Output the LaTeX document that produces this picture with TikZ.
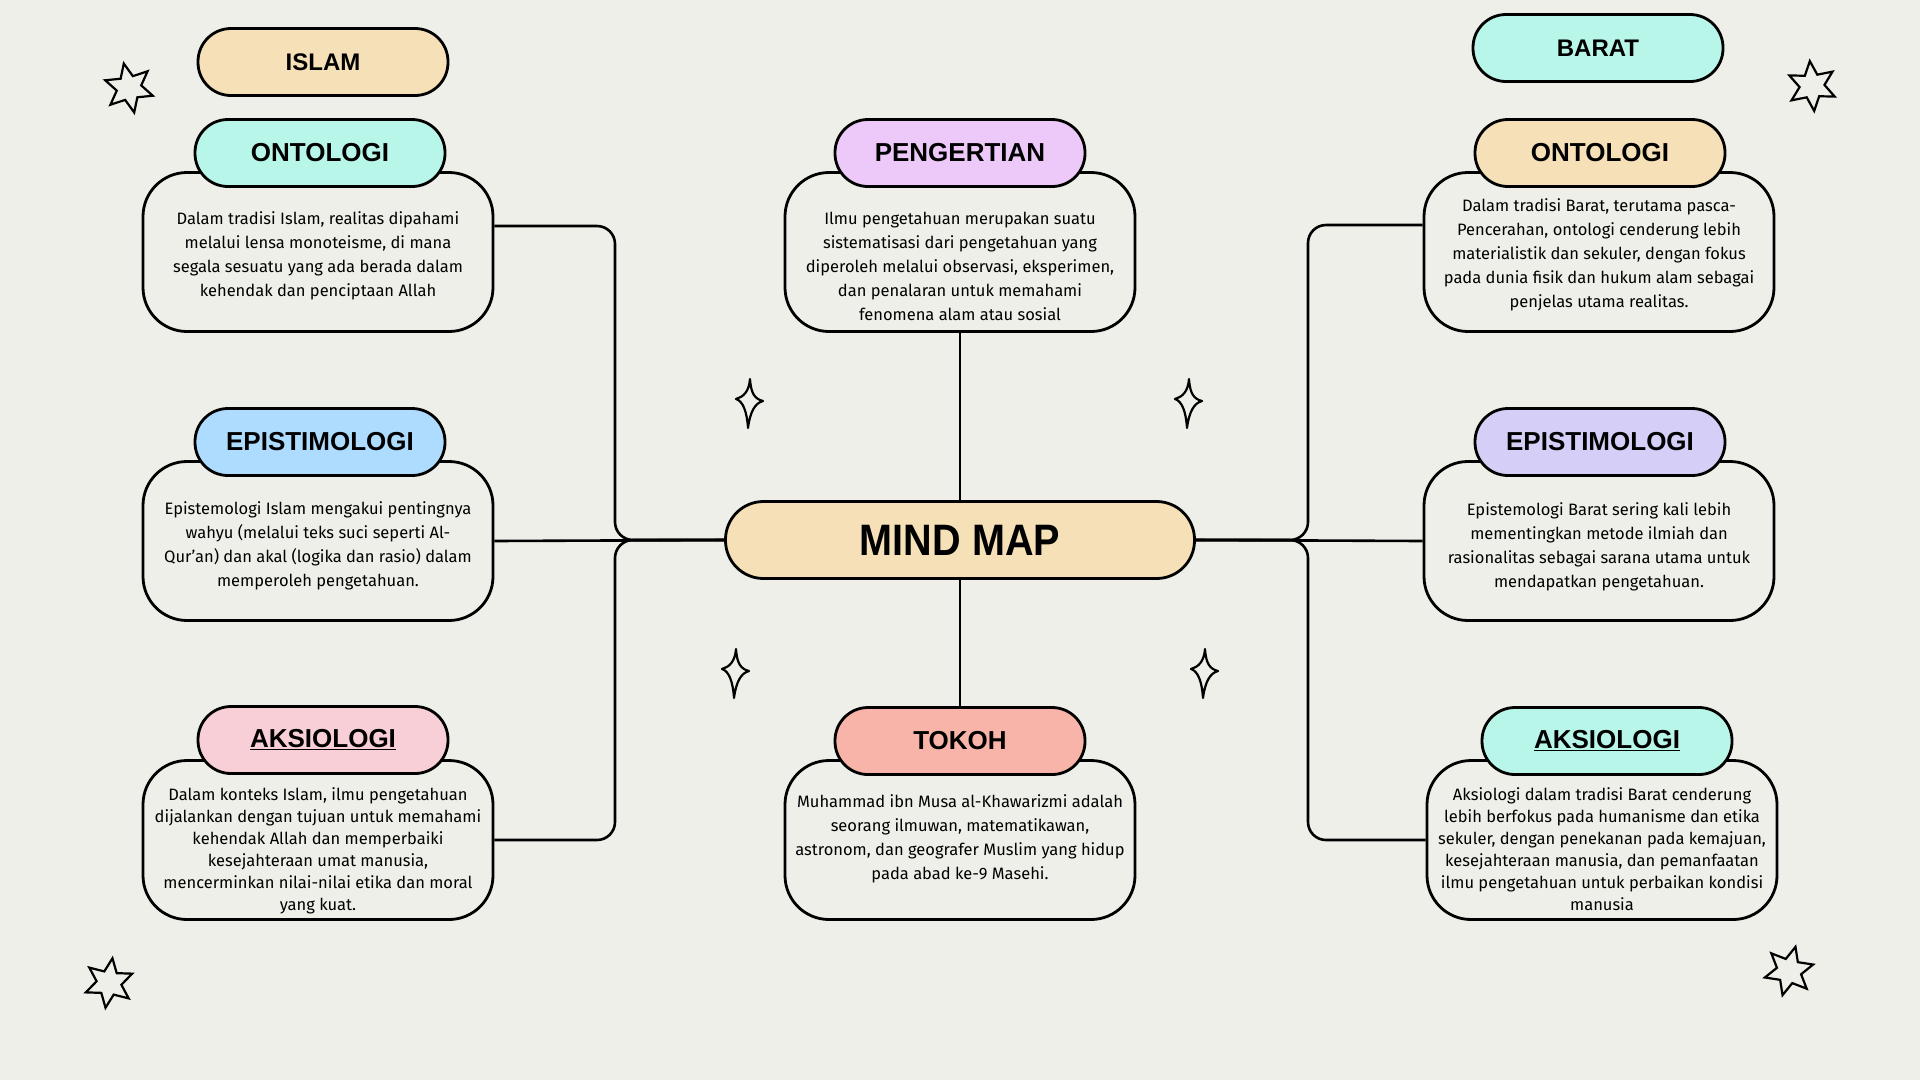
\documentclass[tikz,border=0pt]{standalone}
\usepackage{fontspec}
\setmainfont{Fira Sans}
\newfontfamily\headfont{Liberation Sans}
\newfontfamily\titlefont[FakeStretch=0.9]{Liberation Sans}
\usepackage{tikz}
\usetikzlibrary{shapes.geometric,positioning,calc}
\definecolor{paper}{RGB}{239,239,233}
\definecolor{sand}{RGB}{245,224,183}
\definecolor{mint}{RGB}{184,246,234}
\definecolor{sky}{RGB}{173,220,255}
\definecolor{blush}{RGB}{248,207,214}
\definecolor{lilac}{RGB}{237,201,250}
\definecolor{salmon}{RGB}{248,180,168}
\definecolor{lavender}{RGB}{213,206,246}

\tikzset{
    bodybox/.style={draw, line width=2.8pt, fill=paper, rounded corners=44pt,
        minimum width=350pt, minimum height=159pt},
    bodytext/.style={align=center, inner sep=0pt, font=\fontsize{16.5}{24}\selectfont},
    tighttext/.style={bodytext, font=\fontsize{16.5}{22}\selectfont},
    headbox/.style={draw, line width=2.8pt, rounded corners=33pt,
        minimum width=250pt, minimum height=67pt,
        font=\headfont\bfseries\fontsize{26}{30}\selectfont},
    mainbox/.style={draw, line width=2.8pt, fill=sand, rounded corners=38pt,
        minimum width=469pt, minimum height=77pt,
        font=\titlefont\bfseries\fontsize{44}{48}\selectfont},
    conn/.style={line width=2.6pt, rounded corners=18pt},
    sixstar/.style={star, star points=6, star point ratio=2, draw, line width=2.2pt,
        minimum size=50pt, inner sep=0pt},
    sparkle/.pic={
        \draw[line width=2.2pt, line join=round]
            (1,-21) .. controls (2,-6) and (6,-1) .. (14,1)
            .. controls (6,3) and (1,12) .. (-1,28)
            .. controls (-2,12) and (-6,1) .. (-13,-1)
            .. controls (-6,-3) and (0,-8) .. cycle;
    }
}

\begin{document}
\begin{tikzpicture}[x=1pt, y=-1pt]
    \fill[paper] (0,0) rectangle (1920,1080);
    \useasboundingbox (0,0) rectangle (1920,1080);

    % Islam column (left)
    \node[headbox, fill=sand, font=\headfont\bfseries\fontsize{24}{28}\selectfont] (islam) at (323,62) {ISLAM};
    \node[bodybox] (lontob) at (318,252) {};
    \node[bodytext] (lontot) at (318,256) {Dalam tradisi Islam, realitas dipahami\\ melalui lensa monoteisme, di mana\\ segala sesuatu yang ada berada dalam\\ kehendak dan penciptaan Allah};
    \node[headbox, fill=mint] (lontoh) at (320,153) {ONTOLOGI};
    \node[bodybox] (lepib) at (318,541) {};
    \node[bodytext] (lepit) at (318,546) {Epistemologi Islam mengakui pentingnya\\ wahyu (melalui teks suci seperti Al-\\ Qur'an) dan akal (logika dan rasio) dalam\\ memperoleh pengetahuan.};
    \node[headbox, fill=sky] (lepih) at (320,442) {EPISTIMOLOGI};
    \node[bodybox] (laksb) at (318,840) {};
    \node[tighttext] (lakst) at (318,851) {Dalam konteks Islam, ilmu pengetahuan\\ dijalankan dengan tujuan untuk memahami\\ kehendak Allah dan memperbaiki\\ kesejahteraan umat manusia,\\ mencerminkan nilai-nilai etika dan moral\\ yang kuat.};
    \node[headbox, fill=blush] (laksh) at (323,740) {\underline{AKSIOLOGI}};

    % Middle column
    \node[bodybox] (pengb) at (960,252) {};
    \node[bodytext] (pengt) at (960,266) {Ilmu pengetahuan merupakan suatu\\ sistematisasi dari pengetahuan yang\\ diperoleh melalui observasi, eksperimen,\\ dan penalaran untuk memahami\\ fenomena alam atau sosial};
    \node[headbox, fill=lilac] (pengh) at (960,153) {PENGERTIAN};
    \node[mainbox] (mind) at (960,540) {MIND MAP};
    \node[bodybox] (tokohb) at (960,840) {};
    \node[bodytext] (tokoht) at (960,839) {Muhammad ibn Musa al-Khawarizmi adalah\\ seorang ilmuwan, matematikawan,\\ astronom, dan geografer Muslim yang hidup\\ pada abad ke-9 Masehi.};
    \node[headbox, fill=salmon] (tokohh) at (960,741) {TOKOH};

    % Barat column (right)
    \node[headbox, fill=mint, font=\headfont\bfseries\fontsize{24}{28}\selectfont] (barat) at (1598,48) {BARAT};
    \node[bodybox] (rontob) at (1599,252) {};
    \node[bodytext] (rontot) at (1599,255) {Dalam tradisi Barat, terutama pasca-\\ Pencerahan, ontologi cenderung lebih\\ materialistik dan sekuler, dengan fokus\\ pada dunia fisik dan hukum alam sebagai\\ penjelas utama realitas.};
    \node[headbox, fill=sand] (rontoh) at (1600,153) {ONTOLOGI};
    \node[bodybox] (repib) at (1599,541) {};
    \node[bodytext] (repit) at (1599,547) {Epistemologi Barat sering kali lebih\\ mementingkan metode ilmiah dan\\ rasionalitas sebagai sarana utama untuk\\ mendapatkan pengetahuan.};
    \node[headbox, fill=lavender] (repih) at (1600,442) {EPISTIMOLOGI};
    \node[bodybox] (raksb) at (1602,840) {};
    \node[tighttext] (rakst) at (1602,849) {Aksiologi dalam tradisi Barat cenderung\\ lebih berfokus pada humanisme dan etika\\ sekuler, dengan penekanan pada kemajuan,\\ kesejahteraan manusia, dan pemanfaatan\\ ilmu pengetahuan untuk perbaikan kondisi\\ manusia};
    \node[headbox, fill=mint] (raksh) at (1607,741) {\underline{AKSIOLOGI}};

    % Connectors
    \coordinate (ljoin) at (615,540);
    \coordinate (rjoin) at (1308,540);
    \draw[conn] ([yshift=26pt]lontob.east) -| (ljoin) -- (mind.west);
    \draw[conn] (laksb.east) -| (ljoin) -- (mind.west);
    \draw[conn] (lepib.east) -- (mind.west);
    \draw[conn] ([yshift=27pt]rontob.west) -| (rjoin) -- (mind.east);
    \draw[conn] (raksb.west) -| (rjoin) -- (mind.east);
    \draw[conn] (repib.west) -- (mind.east);
    \draw[conn] (pengb.south) -- (mind.north);
    \draw[conn] (mind.south) -- (tokohh.north);

    % Stars and sparkles
    \node[sixstar, rotate=12] (startl) at (129,88) {};
    \node[sixstar, rotate=-8] (starbl) at (109,983) {};
    \node[sixstar, rotate=5] (startr) at (1812,86) {};
    \node[sixstar, rotate=-15] (starbr) at (1789,971) {};
    \pic at (749,400) {sparkle};
    \pic at (1188,400) {sparkle};
    \pic at (735,670) {sparkle};
    \pic at (1204,670) {sparkle};
\end{tikzpicture}
\end{document}
